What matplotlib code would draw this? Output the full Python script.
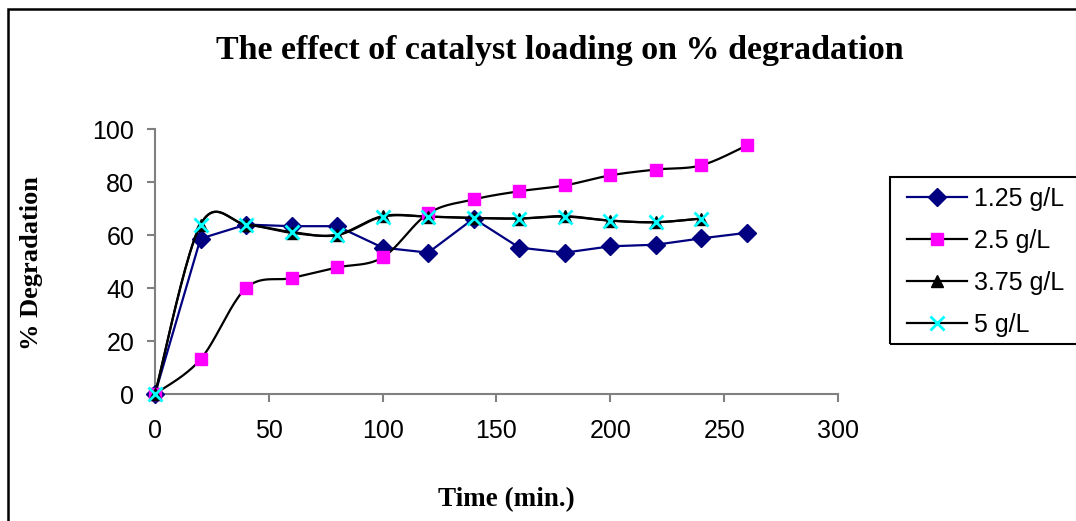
import numpy as np
import matplotlib
matplotlib.use("Agg")
import matplotlib.pyplot as plt
from matplotlib.lines import Line2D
from matplotlib.patches import Rectangle

# Data.
time_min = [0, 20, 40, 60, 80, 100, 120, 140, 160, 180, 200, 220, 240, 260]
deg_125 = [0, 58.7, 64.0, 63.4, 63.4, 55.3, 53.4, 66.3, 55.3, 53.4, 55.8,
           56.4, 58.8, 60.9]
deg_25 = [0, 13.1, 40.0, 43.8, 47.8, 51.6, 68.2, 73.5, 76.6, 78.8, 82.6,
          84.8, 86.4, 93.9]
time_short = [0, 20, 40, 60, 80, 100, 120, 140, 160, 180, 200, 220, 240]
deg_375 = [0, 64.0, 64.0, 60.9, 60.2, 67.2, 67.0, 66.5, 66.3, 67.2, 65.5,
           64.9, 66.3]
deg_5 = [0, 64.0, 64.0, 61.2, 60.0, 67.0, 67.0, 66.5, 66.3, 67.0, 65.5,
         64.9, 66.3]

labels = ["1.25 g/L", "2.5 g/L", "3.75 g/L", "5 g/L"]

W, H = 1076, 521


def smooth_curve(x, y, steps=24):
    """Excel style smoothed line (cubic Bezier through the points)."""
    pts = np.column_stack([x, y]).astype(float)
    out = [pts[0]]
    t = np.linspace(0, 1, steps)[1:, None]
    for i in range(len(pts) - 1):
        p0 = pts[i - 1] if i > 0 else pts[i]
        p1 = pts[i]
        p2 = pts[i + 1]
        p3 = pts[i + 2] if i + 2 < len(pts) else pts[i + 1]
        c1 = p1 + (p2 - p0) / 6
        c2 = p2 - (p3 - p1) / 6
        seg = (1 - t)**3 * p1 + 3 * (1 - t)**2 * t * c1 \
            + 3 * (1 - t) * t**2 * c2 + t**3 * p2
        out.extend(seg)
    out = np.array(out)
    return out[:, 0], out[:, 1]


def px(x, y):
    # pixel coords (top-left origin) to figure fraction
    return x / W, 1 - y / H


sans = "Liberation Sans"
serif = "Liberation Serif"

fig = plt.figure(figsize=(W / 100, H / 100), dpi=100)
ax = fig.add_axes([155 / W, 1 - 394 / H, (838 - 155) / W, (394 - 129.3) / H])

navy = "#000080"
pink = "#ff00ff"
cyan = "#00ffff"

# 1.25 g/L: straight segments
ax.plot(time_min, deg_125, color=navy, lw=1.6, marker="D", ms=9,
        mfc=navy, mec=navy, clip_on=False, zorder=3)

# smoothed series
sx, sy = smooth_curve(time_min, deg_25)
ax.plot(sx, sy, color="black", lw=1.6, clip_on=False, zorder=3)
ax.plot(time_min, deg_25, ls="none", marker="s", ms=9, mfc=pink, mec=pink,
        clip_on=False, zorder=4)

sx, sy = smooth_curve(time_short, deg_375)
ax.plot(sx, sy, color="black", lw=1.6, clip_on=False, zorder=3)
ax.plot(time_short, deg_375, ls="none", marker="^", ms=9, mfc="black",
        mec="black", clip_on=False, zorder=5)

sx, sy = smooth_curve(time_short, deg_5)
ax.plot(sx, sy, color="black", lw=1.6, clip_on=False, zorder=3)
ax.plot(time_short, deg_5, ls="none", marker="x", ms=10, mew=2, mec=cyan,
        clip_on=False, zorder=6)

ax.set_xlim(0, 300)
ax.set_ylim(0, 100)
ax.set_xticks(range(0, 301, 50))
ax.set_yticks(range(0, 101, 20))
for s in ["top", "right"]:
    ax.spines[s].set_visible(False)
for s in ["left", "bottom"]:
    ax.spines[s].set_color("#808080")
    ax.spines[s].set_linewidth(1.5)
ax.tick_params(axis="both", direction="out", length=6, width=1.5,
               color="#808080", labelsize=18)
ax.tick_params(axis="x", pad=12)
ax.tick_params(axis="y", pad=9)
for lab in ax.get_xticklabels() + ax.get_yticklabels():
    lab.set_fontfamily(sans)

# Titles and axis labels
fig.text(*px(560, 59), "The effect of catalyst loading on % degradation",
         family=serif, weight="bold", fontsize=24.5, ha="center",
         va="baseline")
fig.text(*px(32, 263), "% Degradation", family=serif, weight="bold",
         fontsize=19, rotation=90, ha="center", va="center")
fig.text(*px(506, 500), "Time (min.)", family=serif, weight="bold",
         fontsize=19.5, ha="center", va="center")

# Legend
handles = [
    Line2D([], [], color=navy, lw=1.6, marker="D", ms=9, mfc=navy, mec=navy),
    Line2D([], [], color="black", lw=1.6, marker="s", ms=9, mfc=pink,
           mec=pink),
    Line2D([], [], color="black", lw=1.6, marker="^", ms=9, mfc="black",
           mec="black"),
    Line2D([], [], color="black", lw=1.6, marker="x", ms=10, mew=2,
           mec=cyan),
]
leg = fig.legend(handles, labels, loc="upper left",
                 bbox_to_anchor=px(897, 177), frameon=False,
                 prop={"family": sans, "size": 18}, handlelength=2.4,
                 handletextpad=0.3, labelspacing=0.72, borderaxespad=0)

# legend box and outer chart border
fig.patches.append(Rectangle(px(890, 344), 200 / W, (344 - 176.7) / H,
                             transform=fig.transFigure, fill=False,
                             edgecolor="black", lw=1.5))
fig.patches.append(Rectangle(px(8, 530), 1080 / W, (530 - 9) / H,
                             transform=fig.transFigure, fill=False,
                             edgecolor="black", lw=1.8))

fig.savefig("out.png", dpi=100)
